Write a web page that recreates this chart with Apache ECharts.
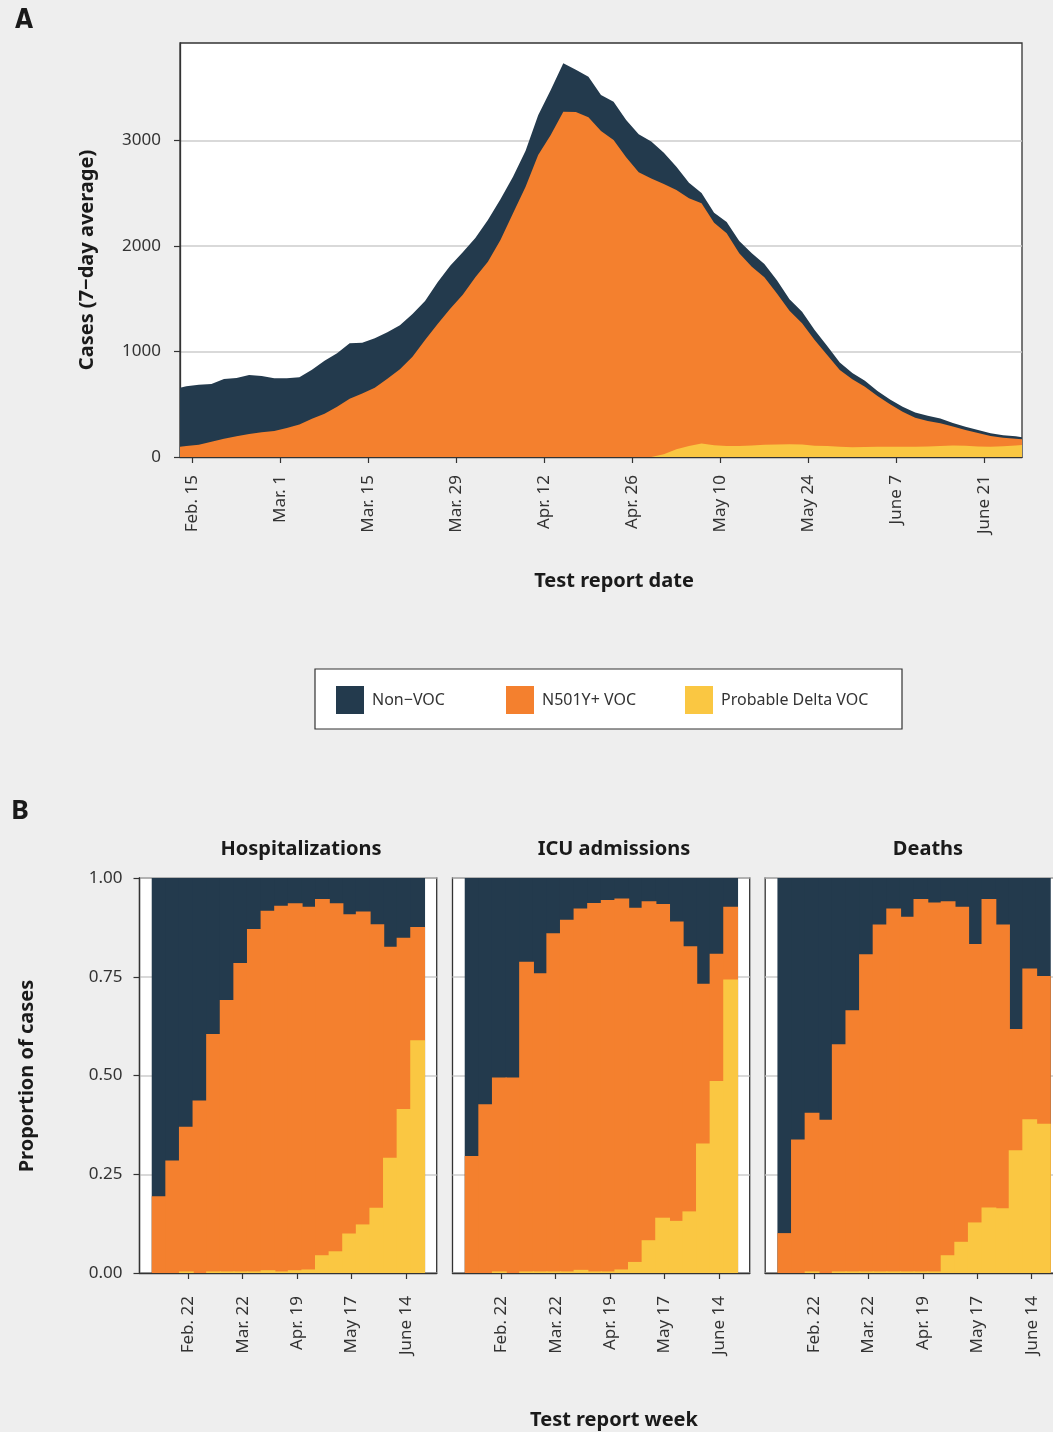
<!DOCTYPE html>
<html><head><meta charset="utf-8">
<script src="https://cdn.jsdelivr.net/npm/echarts@6/dist/echarts.min.js"></script>
<style>html,body{margin:0;padding:0;background:#eeeeee}#c{width:1053px;height:1432px}</style>
</head><body><div id="c"></div>
<script>
// ---------- names & colours ----------
const seriesNames = ['Non−VOC', 'N501Y+ VOC', 'Probable Delta VOC'];
const seriesColors = ['#233a4d', '#f4802e', '#fac742'];

// ---------- Panel A: daily cases (7-day average) ----------
const dates = ['2021-02-13','2021-02-14','2021-02-16','2021-02-18','2021-02-20','2021-02-22','2021-02-24','2021-02-26','2021-02-28',
 '2021-03-02','2021-03-04','2021-03-06','2021-03-08','2021-03-10','2021-03-12','2021-03-14','2021-03-16','2021-03-18','2021-03-20',
 '2021-03-22','2021-03-24','2021-03-26','2021-03-28','2021-03-30','2021-04-01','2021-04-03','2021-04-05','2021-04-07','2021-04-09',
 '2021-04-11','2021-04-13','2021-04-15','2021-04-17','2021-04-19','2021-04-21','2021-04-23','2021-04-25','2021-04-27','2021-04-29',
 '2021-05-01','2021-05-03','2021-05-05','2021-05-07','2021-05-09','2021-05-11','2021-05-13','2021-05-15','2021-05-17','2021-05-19',
 '2021-05-21','2021-05-23','2021-05-25','2021-05-27','2021-05-29','2021-05-31','2021-06-02','2021-06-04','2021-06-06','2021-06-08',
 '2021-06-10','2021-06-12','2021-06-14','2021-06-16','2021-06-18','2021-06-20','2021-06-22','2021-06-24','2021-06-26','2021-06-27'];
const nonVocCases = [559,566,569,547,565,553,559,534,500,471,448,465,502,506,525,481,468,439,417,405,370,395,408,401,373,395,386,348,341,376,
 426,458,401,385,342,363,354,360,350,297,221,149,97,95,107,117,127,127,124,108,111,95,85,72,60,57,48,45,47,50,50,45,35,30,28,26,24,22,20];
const n501yCases = [98,104,117,145,174,196,218,234,246,275,307,363,411,477,553,603,657,743,831,951,1109,1261,1406,1539,1703,1852,2057,2310,
 2563,2863,3053,3274,3271,3220,3090,3005,2841,2699,2640,2563,2458,2347,2277,2109,2017,1827,1694,1587,1433,1267,1149,1003,863,729,644,573,
 482,401,332,275,241,215,180,150,128,101,81,64,54];
const deltaCases = [0,0,0,0,0,0,0,0,0,0,0,0,0,0,0,0,0,0,0,0,0,0,0,0,0,0,0,0,0,0,0,0,0,0,0,0,0,0,0,
 25,73,105,128,112,104,104,110,116,118,120,118,106,104,96,92,94,96,98,98,98,100,104,108,106,100,98,102,110,114];
const tickDatesA = ['2021-02-15','2021-03-01','2021-03-15','2021-03-29','2021-04-12','2021-04-26','2021-05-10','2021-05-24','2021-06-07','2021-06-21'];
const tickLabelsA = ['Feb. 15','Mar. 1','Mar. 15','Mar. 29','Apr. 12','Apr. 26','May 10','May 24','June 7','June 21'];
const yTicksA = [0, 1000, 2000, 3000];

// ---------- Panel B: weekly proportions ----------
const weeks = ['2021-02-07','2021-02-14','2021-02-21','2021-02-28','2021-03-07','2021-03-14','2021-03-21','2021-03-28','2021-04-04','2021-04-11',
 '2021-04-18','2021-04-25','2021-05-02','2021-05-09','2021-05-16','2021-05-23','2021-05-30','2021-06-06','2021-06-13','2021-06-20'];
const facetNames = ['Hospitalizations', 'ICU admissions', 'Deaths'];
const hospNonVoc = [0.806,0.715,0.630,0.563,0.395,0.309,0.215,0.129,0.083,0.070,0.064,0.073,0.053,0.064,0.092,0.085,0.117,0.174,0.151,0.124];
const hospN501y  = [0.194,0.285,0.366,0.437,0.601,0.687,0.781,0.867,0.910,0.926,0.929,0.918,0.902,0.881,0.808,0.792,0.718,0.534,0.434,0.287];
const hospDelta  = [0,0,0.004,0,0.004,0.004,0.004,0.004,0.007,0.004,0.007,0.009,0.045,0.055,0.100,0.123,0.165,0.292,0.415,0.589];
const icuNonVoc  = [0.704,0.573,0.505,0.505,0.212,0.241,0.140,0.106,0.077,0.063,0.056,0.052,0.075,0.059,0.066,0.110,0.173,0.268,0.192,0.073];
const icuN501y   = [0.296,0.427,0.491,0.495,0.784,0.755,0.856,0.890,0.915,0.933,0.940,0.939,0.897,0.858,0.794,0.758,0.671,0.404,0.322,0.184];
const icuDelta   = [0,0,0.004,0,0.004,0.004,0.004,0.004,0.008,0.004,0.004,0.009,0.028,0.083,0.140,0.132,0.156,0.328,0.486,0.743];
const deathNonVoc= [0.899,0.662,0.594,0.612,0.421,0.335,0.193,0.118,0.077,0.098,0.053,0.062,0.059,0.073,0.167,0.053,0.118,0.382,0.229,0.248];
const deathN501y = [0.101,0.338,0.402,0.388,0.575,0.661,0.803,0.878,0.919,0.898,0.943,0.934,0.896,0.848,0.705,0.781,0.718,0.307,0.382,0.374];
const deathDelta = [0,0,0.004,0,0.004,0.004,0.004,0.004,0.004,0.004,0.004,0.004,0.045,0.079,0.128,0.166,0.164,0.311,0.389,0.378];
const tickDatesB = ['2021-02-22','2021-03-22','2021-04-19','2021-05-17','2021-06-14'];
const tickLabelsB = ['Feb. 22','Mar. 22','Apr. 19','May 17','June 14'];
const yTicksB = [0, 0.25, 0.5, 0.75, 1];

// ---------- helpers ----------
const FONT = '"Noto Sans", sans-serif';
const TXT = '#333333';
const dayMs = 86400000;
const baseA = '2021-02-15', baseB = '2021-02-22';
const dayOf = (s, base) => Math.round((Date.parse(s + 'T00:00:00Z') - Date.parse(base + 'T00:00:00Z')) / dayMs);
const tickDaysA = tickDatesA.map(d => dayOf(d, baseA));
const tickDaysB = tickDatesB.map(d => dayOf(d, baseB));
const labelA = v => { const i = tickDaysA.indexOf(Math.round(v)); return i >= 0 ? tickLabelsA[i] : ''; };
const labelB = v => { const i = tickDaysB.indexOf(Math.round(v)); return i >= 0 ? tickLabelsB[i] : ''; };
// stacking: cumulative tops (bottom: Delta, then N501Y+, then Non-VOC), drawn back-to-front
const cumulate = (parts) => parts[0].map((_, i) => parts.reduce((s, p) => s + p[i], 0));

const gridB = [
  {left: 139.5, width: 297.2},
  {left: 452.5, width: 297.2},
  {left: 765.2, width: 297.2}
];
const xMinB = -25.1, xMaxB = 127.8;
const barW = 7 * 297.2 / (xMaxB - xMinB) + 1.2;

const grids = [{left: 180, right: 31, top: 43, height: 414, outerBoundsMode: 'none', show: true, backgroundColor: '#ffffff', borderColor: '#333', borderWidth: 1.3}];
gridB.forEach(g => grids.push({left: g.left, width: g.width, top: 878, height: 395, outerBoundsMode: 'none', show: true, backgroundColor: '#ffffff', borderColor: '#333', borderWidth: 1.3}));

const xAxes = [{
  gridIndex: 0, type: 'value', min: -2, max: 132,
  axisLine: {show: true, onZero: false, lineStyle: {color: '#333', width: 1.3}},
  axisTick: {show: true, customValues: tickDaysA, length: 6, lineStyle: {color: '#333', width: 1.2}},
  axisLabel: {customValues: tickDaysA, formatter: labelA, rotate: 90, margin: 18, fontSize: 17, color: TXT, fontFamily: FONT},
  splitLine: {show: false}
}];
const yAxes = [{
  gridIndex: 0, type: 'value', min: 0, max: 3925, interval: 1000,
  axisLine: {show: true, onZero: false, lineStyle: {color: '#333', width: 1.3}},
  axisTick: {show: true, customValues: yTicksA, length: 6, lineStyle: {color: '#333', width: 1.2}},
  axisLabel: {customValues: yTicksA, formatter: v => String(v), margin: 19, fontSize: 17, color: TXT, fontFamily: FONT},
  splitLine: {show: true, lineStyle: {color: '#cccccc', width: 1.5}}
}];
gridB.forEach((g, f) => {
  xAxes.push({
    gridIndex: f + 1, type: 'value', min: xMinB, max: xMaxB,
    axisLine: {show: true, onZero: false, lineStyle: {color: '#333', width: 1.3}},
    axisTick: {show: true, customValues: tickDaysB, length: 6, lineStyle: {color: '#333', width: 1.2}},
    axisLabel: {customValues: tickDaysB, formatter: labelB, rotate: 90, margin: 23, fontSize: 17, color: TXT, fontFamily: FONT},
    splitLine: {show: false}
  });
  yAxes.push({
    gridIndex: f + 1, type: 'value', min: 0, max: 1, interval: 0.25,
    axisLine: {show: f === 0, onZero: false, lineStyle: {color: '#333', width: 1.3}},
    axisTick: {show: f === 0, length: 6, lineStyle: {color: '#333', width: 1.2}},
    axisLabel: {show: f === 0, margin: 17, fontSize: 17, color: TXT, fontFamily: FONT, formatter: v => v.toFixed(2)},
    splitLine: {show: true, lineStyle: {color: '#cccccc', width: 1.5}}
  });
});

const series = [];
// Panel A: areas drawn back-to-front (total first, Delta last)
const aLayers = [
  {name: seriesNames[0], color: seriesColors[0], tops: cumulate([deltaCases, n501yCases, nonVocCases])},
  {name: seriesNames[1], color: seriesColors[1], tops: cumulate([deltaCases, n501yCases])},
  {name: seriesNames[2], color: seriesColors[2], tops: cumulate([deltaCases])}
];
aLayers.forEach(L => {
  series.push({
    type: 'line', name: L.name, xAxisIndex: 0, yAxisIndex: 0,
    symbol: 'none', showSymbol: false, smooth: false,
    lineStyle: {width: 0, color: L.color},
    itemStyle: {color: L.color},
    areaStyle: {color: L.color, opacity: 1, origin: 'start'},
    data: dates.map((d, i) => [dayOf(d, baseA), L.tops[i]])
  });
});
// Panel B: overlapping bars drawn back-to-front
const facetData = [
  [hospDelta, hospN501y, hospNonVoc],
  [icuDelta, icuN501y, icuNonVoc],
  [deathDelta, deathN501y, deathNonVoc]
];
facetData.forEach((sets, f) => {
  const layers = [
    {name: seriesNames[0], color: seriesColors[0], tops: cumulate([sets[0], sets[1], sets[2]])},
    {name: seriesNames[1], color: seriesColors[1], tops: cumulate([sets[0], sets[1]])},
    {name: seriesNames[2], color: seriesColors[2], tops: cumulate([sets[0]])}
  ];
  layers.forEach(L => {
    series.push({
      type: 'bar', name: L.name, xAxisIndex: f + 1, yAxisIndex: f + 1,
      barWidth: barW, barGap: '-100%', itemStyle: {color: L.color, borderWidth: 0},
      data: weeks.map((w, i) => [dayOf(w, baseB), L.tops[i]])
    });
  });
});

const titleStyle = {fontFamily: FONT, fontWeight: 'bold', fontSize: 20, color: '#1a1a1a'};
const titles = [
  {text: 'A', left: 10, top: 3, textStyle: {fontFamily: '"DejaVu Sans Condensed", "DejaVu Sans", sans-serif', fontWeight: 'bold', fontSize: 26, color: '#1a1a1a'}},
  {text: 'B', left: 6, top: 793, textStyle: {fontFamily: FONT, fontWeight: 'bold', fontSize: 27, color: '#1a1a1a'}},
  {text: 'Test report date', left: 609, top: 566, textAlign: 'center', textStyle: titleStyle},
  {text: 'Test report week', left: 609, top: 1405, textAlign: 'center', textStyle: titleStyle},
  {text: facetNames[0], left: 296, top: 834, textAlign: 'center', textStyle: titleStyle},
  {text: facetNames[1], left: 609, top: 834, textAlign: 'center', textStyle: titleStyle},
  {text: facetNames[2], left: 923, top: 834, textAlign: 'center', textStyle: titleStyle}
];

// one legend component per key, placed inside a framed box
const legendLefts = [336, 506, 685];
const legends = seriesNames.map((n, i) => ({
  data: [n], left: legendLefts[i], top: 686, padding: 0, z: 5,
  itemWidth: 28, itemHeight: 28, icon: 'rect', itemStyle: {borderWidth: 0},
  textStyle: {fontSize: 16, color: TXT, fontFamily: FONT, padding: [0, 0, 0, 3]}
}));

const option = {
  backgroundColor: '#eeeeee',
  animation: false,
  textStyle: {fontFamily: FONT},
  title: titles,
  legend: legends,
  grid: grids,
  xAxis: xAxes,
  yAxis: yAxes,
  graphic: [
    {type: 'rect', z: 1, shape: {x: 315, y: 669, width: 587, height: 60},
     style: {fill: '#ffffff', stroke: '#333333', lineWidth: 1.2}},
    {type: 'text', x: 87, y: 260, rotation: Math.PI / 2,
     style: {text: 'Cases (7−day average)', fontFamily: FONT, fontWeight: 'bold', fontSize: 20, fill: '#1a1a1a', align: 'center', verticalAlign: 'middle'}},
    {type: 'text', x: 27, y: 1076, rotation: Math.PI / 2,
     style: {text: 'Proportion of cases', fontFamily: FONT, fontWeight: 'bold', fontSize: 20, fill: '#1a1a1a', align: 'center', verticalAlign: 'middle'}}
  ],
  series: series
};

const chart = echarts.init(document.getElementById('c'), null, {renderer: 'canvas'});
chart.setOption(option);
</script>
</body></html>
